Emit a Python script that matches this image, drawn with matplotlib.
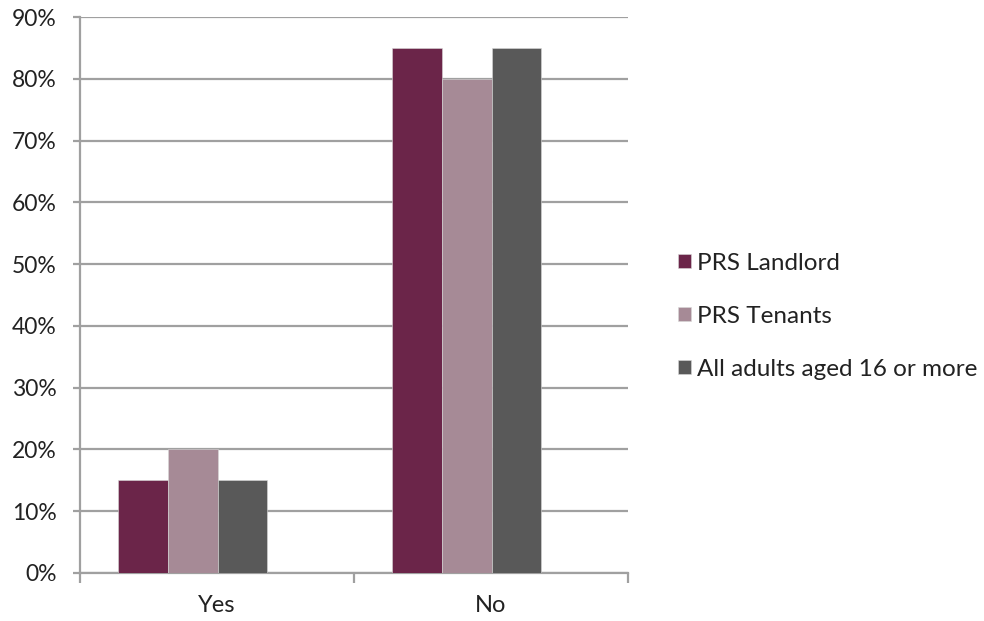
import matplotlib.pyplot as plt
import numpy as np
from matplotlib.ticker import MultipleLocator, FuncFormatter

categories = ['Yes', 'No']
series_names = ['PRS Landlord', 'PRS Tenants', 'All adults aged 16 or more']
landlord = [15, 85]
tenants = [20, 80]
all_adults = [15, 85]
colors = ['#6B2549', '#A68A96', '#595959']

plt.rcParams['font.family'] = ['Lato', 'DejaVu Sans']

fig = plt.figure(figsize=(9.84, 6.21), dpi=100)
ax = fig.add_axes([0.0813, 0.0773, 0.5569, 0.8953])

x = np.arange(len(categories))
width = 0.182
shift = -0.089  # bar groups sit a little left of the category centre
for i, (vals, name, col) in enumerate(zip([landlord, tenants, all_adults], series_names, colors)):
    ax.bar(x + shift + (i - 1) * width, vals, width, color=col, label=name, zorder=3,
           edgecolor='#D8D8D8', linewidth=0.4)

ax.set_xlim(-0.5, 1.5)
ax.set_ylim(0, 90)
ax.yaxis.set_major_locator(MultipleLocator(10))
ax.yaxis.set_major_formatter(FuncFormatter(lambda v, p: f'{int(v)}%'))
ax.grid(axis='y', color='#A0A0A0', linewidth=1.6, zorder=0)
ax.set_xticks([-0.5, 0.5, 1.5])
ax.set_xticklabels([])
ax.set_xticks(x, minor=True)
ax.set_xticklabels(categories, minor=True)
ax.tick_params(axis='x', which='major', length=7, width=1.6, color='#A0A0A0', direction='out')
ax.tick_params(axis='x', which='minor', length=0, pad=16, labelsize=17, labelcolor='#222222')
ax.tick_params(axis='y', length=5, width=1.6, color='#A0A0A0', labelsize=16.5, labelcolor='#222222', pad=12)

for s in ['top', 'right']:
    ax.spines[s].set_visible(False)
for s in ['left', 'bottom']:
    ax.spines[s].set_color('#A0A0A0')
    ax.spines[s].set_linewidth(1.6)

fig.legend(loc='center left', bbox_to_anchor=(0.689, 0.491), frameon=False, fontsize=17.5,
           handlelength=0.55, handleheight=0.55, handletextpad=0.25, labelspacing=1.32,
           labelcolor='#222222', borderpad=0, borderaxespad=0)

fig.savefig('out.png', dpi=100)
